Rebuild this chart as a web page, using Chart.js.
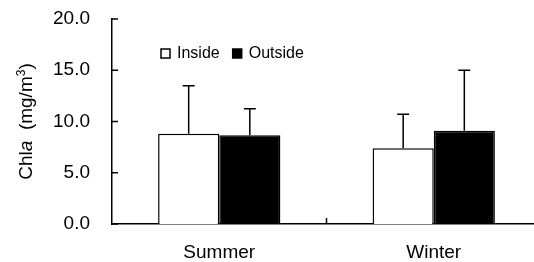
<!DOCTYPE html>
<html>
<head>
<meta charset="utf-8">
<script src="https://cdn.jsdelivr.net/npm/chart.js@4.4.1/dist/chart.umd.min.js"></script>
<style>
  html, body { margin: 0; padding: 0; overflow: hidden; background: #fff; }
  #wrap { width: 541px; height: 262px; }
</style>
</head>
<body>
<div id="wrap"><canvas id="myChart"></canvas></div>
<script>
const seasons = ['Summer', 'Winter'];
const insideMean = [8.8, 7.4];
const insideErr = [4.7, 3.3];
const outsideMean = [8.65, 9.1];
const outsideErr = [2.6, 5.9];
const yTicks = [0, 5, 10, 15, 20];

const FONT = "'Liberation Sans', Arial, sans-serif";

// upward-only error bars with caps
const errorBars = {
  id: 'errorBars',
  afterDatasetsDraw(chart) {
    const ctx = chart.ctx;
    const y = chart.scales.y;
    ctx.save();
    ctx.strokeStyle = '#000';
    ctx.lineWidth = 1.5;
    chart.data.datasets.forEach((ds, i) => {
      chart.getDatasetMeta(i).data.forEach((bar, j) => {
        const top = y.getPixelForValue(ds.data[j] + ds.errors[j]);
        ctx.beginPath();
        ctx.moveTo(bar.x, bar.y);
        ctx.lineTo(bar.x, top);
        ctx.moveTo(bar.x - 6, top);
        ctx.lineTo(bar.x + 6, top);
        ctx.stroke();
      });
    });
    ctx.restore();
  }
};

// inward ticks, legend, and the y title with italic a and superscript
const decor = {
  id: 'decor',
  afterDraw(chart) {
    const ctx = chart.ctx;
    const {left, bottom} = chart.chartArea;
    const x = chart.scales.x;
    const y = chart.scales.y;
    ctx.save();
    ctx.strokeStyle = '#000';
    ctx.lineWidth = 1.5;
    ctx.beginPath();
    yTicks.forEach(v => {
      const py = y.getPixelForValue(v);
      ctx.moveTo(left, py);
      ctx.lineTo(left + 6, py);
    });
    const half = (x.getPixelForValue(1) - x.getPixelForValue(0)) / 2;
    for (let j = 0; j < seasons.length; j++) {
      const px = x.getPixelForValue(j) + half;
      ctx.moveTo(px, bottom);
      ctx.lineTo(px, bottom - 6);
    }
    ctx.stroke();

    // legend
    ctx.font = '16px ' + FONT;
    ctx.textBaseline = 'middle';
    ctx.fillStyle = '#000';
    let lx = 161;
    const ly = 53.5;
    chart.data.datasets.forEach(ds => {
      ctx.fillStyle = ds.backgroundColor;
      ctx.fillRect(lx, ly - 4.5, 9, 9);
      ctx.strokeRect(lx, ly - 4.5, 9, 9);
      ctx.fillStyle = '#000';
      ctx.fillText(ds.label, lx + 16, ly);
      lx += 16 + ctx.measureText(ds.label).width + 13;
    });

    // y title
    ctx.translate(32, (chart.chartArea.top + bottom) / 2);
    ctx.rotate(-Math.PI / 2);
    const parts = [
      ['Chl', '19px ' + FONT, 0],
      ['a', 'italic 19px ' + FONT, 0],
      ['  (mg/m', '19px ' + FONT, 0],
      ['3', '12px ' + FONT, -7],
      [')', '19px ' + FONT, 0]
    ];
    let total = 0;
    parts.forEach(p => { ctx.font = p[1]; total += ctx.measureText(p[0]).width; });
    let tx = -total / 2;
    ctx.textBaseline = 'alphabetic';
    parts.forEach(p => {
      ctx.font = p[1];
      ctx.fillText(p[0], tx, p[2]);
      tx += ctx.measureText(p[0]).width;
    });
    ctx.restore();
  }
};

new Chart(document.getElementById('myChart'), {
  type: 'bar',
  data: {
    labels: seasons,
    datasets: [
      { label: 'Inside', data: insideMean, errors: insideErr, backgroundColor: '#ffffff', borderColor: '#000', borderWidth: 1.5 },
      { label: 'Outside', data: outsideMean, errors: outsideErr, backgroundColor: '#000000', borderColor: '#000', borderWidth: 1.5 }
    ]
  },
  options: {
    responsive: true,
    maintainAspectRatio: false,
    animation: false,
    layout: { padding: { top: 19, left: 0, right: 0, bottom: 0 } },
    categoryPercentage: 0.57,
    barPercentage: 1,
    plugins: { legend: { display: false }, tooltip: { enabled: false } },
    scales: {
      x: {
        grid: { display: false },
        border: { color: '#000', width: 1.5 },
        ticks: { color: '#000', font: { family: FONT, size: 19 }, padding: 9 },
        afterFit(scale) { scale.height = 38; scale.paddingLeft = 0; scale.paddingRight = 0; }
      },
      y: {
        min: 0,
        max: 20,
        grid: { display: false },
        border: { color: '#000', width: 1.5 },
        ticks: {
          stepSize: 5,
          color: '#000',
          font: { family: FONT, size: 19 },
          padding: 14,
          callback: v => v.toFixed(1)
        },
        afterFit(scale) { scale.width = 112; scale.paddingTop = 0; scale.paddingBottom = 0; }
      }
    }
  },
  plugins: [errorBars, decor]
});
</script>
</body>
</html>
